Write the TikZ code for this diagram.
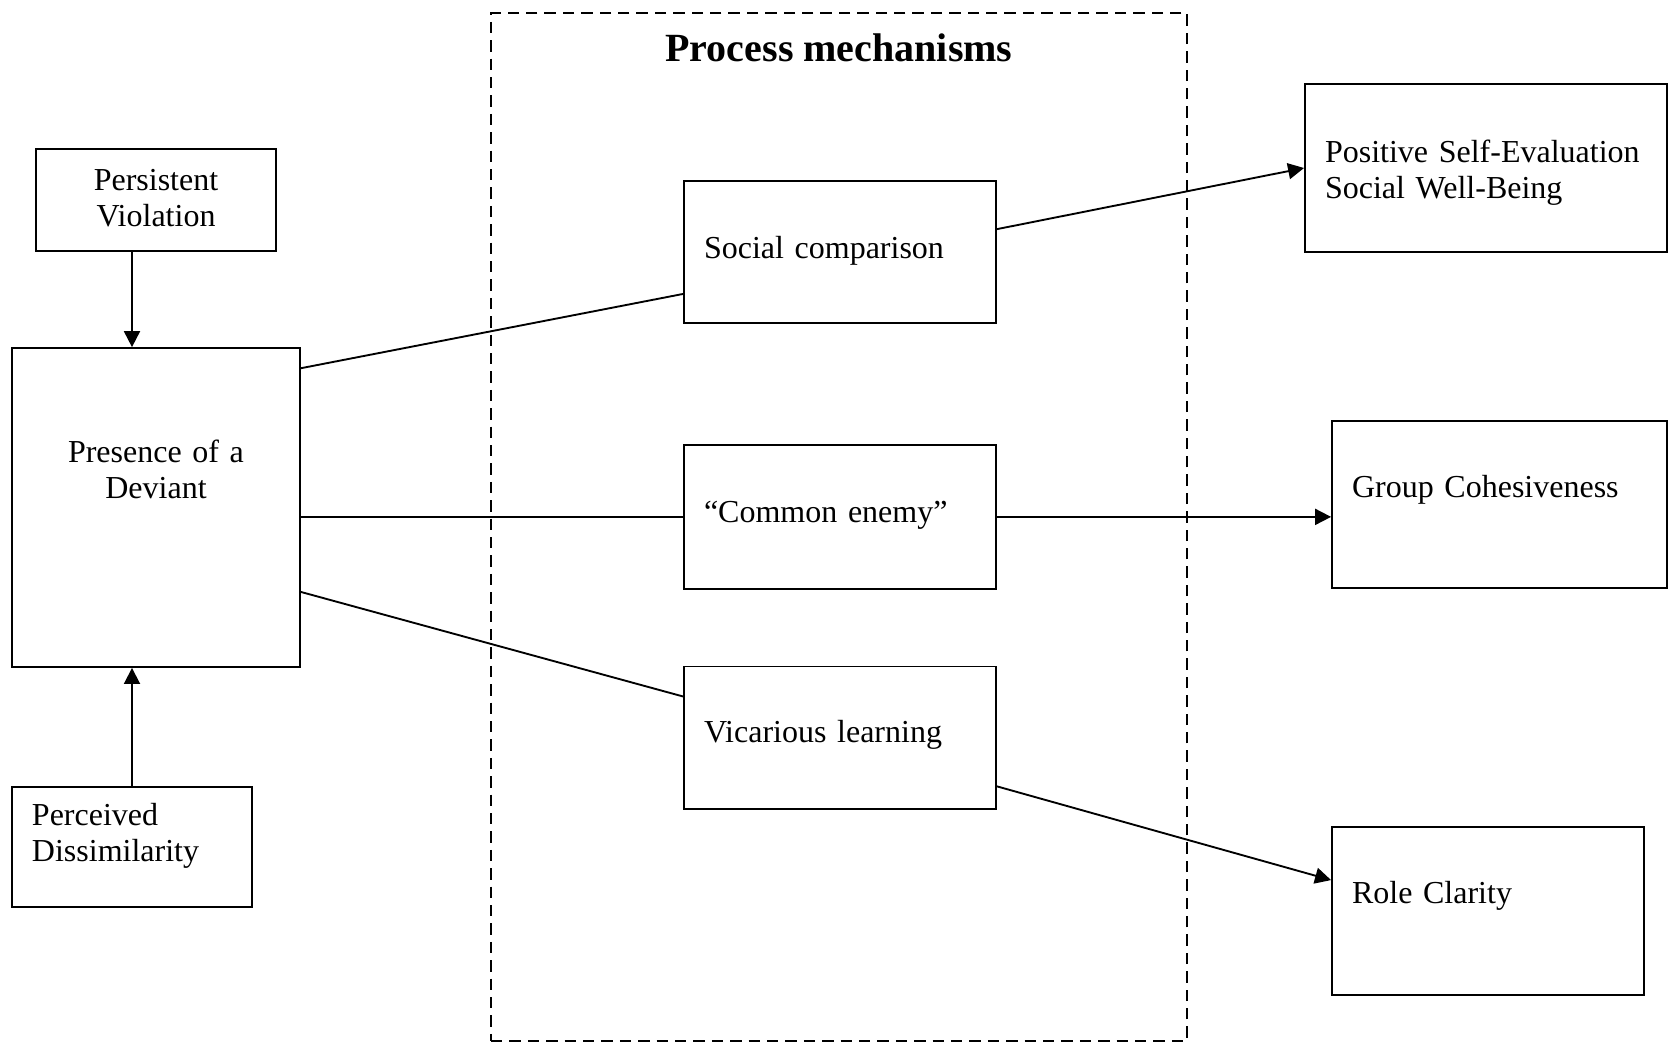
\documentclass[tikz,border=0pt]{standalone}
\usepackage{fontspec}
\setmainfont{Liberation Serif}
\usetikzlibrary{positioning,arrows.meta}

\begin{document}
\begin{tikzpicture}[x=0.375pt, y=-0.375pt, line width=0.7pt,
        font=\fontsize{12}{13.5}\selectfont,
        box/.style={draw, rectangle, inner xsep=7.5pt, inner ysep=0pt, align=left},
        link/.style={-{Triangle[length=6pt,width=6pt]}}]
            \useasboundingbox (0,0) rectangle (1668,1044);
            \node[draw, rectangle, dash pattern=on 4.3pt off 2.6pt, minimum width=261pt, minimum height=385.5pt] (mech) at (839,527) {};
            \node[anchor=base, font=\fontsize{15}{18}\selectfont\bfseries] (title) at ([yshift=-18.4pt]mech.north) {Process mechanisms};
            \node[box, align=center, text width=75pt, minimum height=38.25pt, text height=0pt, text depth=7.5pt] (persist) at (156,200) {Persistent\\Violation};
            \node[box, align=center, text width=93pt, minimum height=119.6pt, text height=0pt, text depth=34.1pt, below=35.7pt of persist] (presence) {Presence of a\\Deviant};
            \node[box, text width=75pt, minimum height=45pt, text height=0pt, text depth=16.5pt, below=44.3pt of presence.south west, anchor=north west] (perceived) {Perceived\\Dissimilarity};
            \node[box, text width=102pt, minimum height=53.25pt, text height=4.5pt, text depth=0pt] (social) at (840,252) {Social comparison};
            \node[box, text width=102pt, minimum height=54pt, text height=4.5pt, text depth=0pt, below=45pt of social] (common) {“Common enemy”};
            \node[box, text width=102pt, minimum height=53.6pt, text height=3.4pt, text depth=0pt, below=28.4pt of common] (vicar) {Vicarious learning};
            \node[box, text width=120.75pt, minimum height=63pt, text height=0pt, text depth=4.5pt] (positive) at (1486,168) {Positive Self-Evaluation\\Social Well-Being};
            \node[box, text width=110.6pt, minimum height=62.6pt, text height=0pt, text depth=4.9pt] (group) at (1499.5,504.5) {Group Cohesiveness};
            \node[box, text width=102pt, minimum height=63pt, text height=0pt, text depth=6pt] (role) at (1488,911) {Role Clarity};
            \draw[link] (perceived.north |- persist.south) -- (perceived.north |- presence.north);
            \draw[link] (perceived.north) -- (perceived.north |- presence.south);
            \draw ([yshift=-7.9pt]presence.north east) -- ([yshift=11.25pt]social.south west);
            \draw (presence.east |- common.west) -- (common.west);
            \draw ([yshift=28.5pt]presence.south east) -- ([yshift=-11.6pt]vicar.north west);
            \draw[link] ([yshift=-18.4pt]social.north east) -- (positive.west);
            \draw[link] (common.east) -- (common.east -| group.west);
            \draw[link] ([yshift=9pt]vicar.south east) -- ([yshift=-20.25pt]role.north west);
        \end{tikzpicture}
\end{document}
